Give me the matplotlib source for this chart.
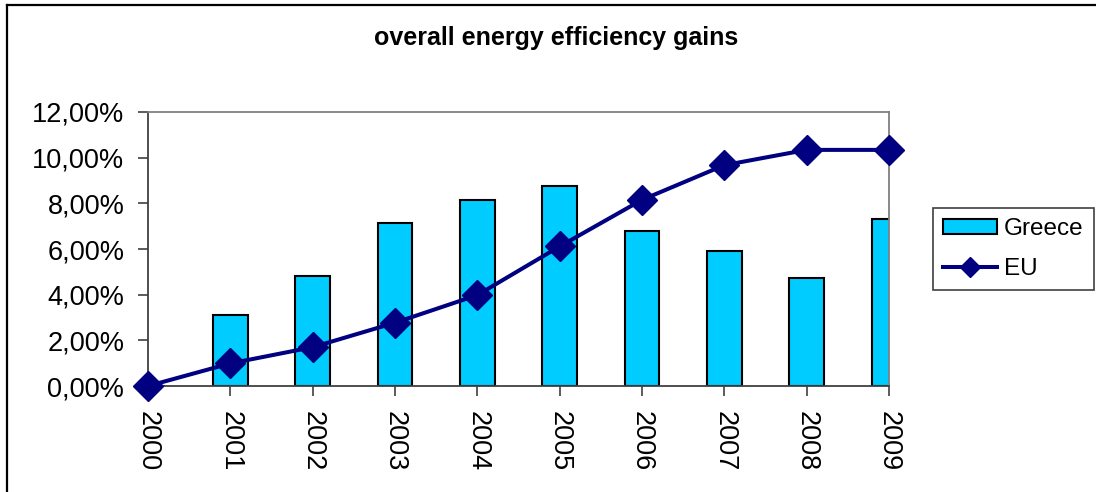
import matplotlib.pyplot as plt
from matplotlib.ticker import FuncFormatter
from matplotlib.lines import Line2D

plt.rcParams['font.family'] = ['Liberation Sans', 'DejaVu Sans']

years = ['2000', '2001', '2002', '2003', '2004', '2005', '2006', '2007', '2008', '2009']
greece = [0.0, 3.12, 4.82, 7.13, 8.14, 8.75, 6.78, 5.91, 4.73, 7.30]
eu = [0.0, 0.99, 1.70, 2.77, 3.98, 6.11, 8.15, 9.67, 10.34, 10.34]

fig = plt.figure(figsize=(10.96, 4.92), dpi=100)
ax = fig.add_axes([0.135, 0.2154, 0.676, 0.5570])

x = list(range(len(years)))
bars = ax.bar(x, greece, width=0.42, color='#00CCFF', edgecolor='black', linewidth=1.5,
              label='Greece', zorder=2)
line, = ax.plot(x, eu, color='#000080', linewidth=2.9, marker='D', markersize=15,
                label='EU', zorder=3, clip_on=False)

ax.set_xlim(0, 9)
ax.set_ylim(0, 12)
ax.set_yticks([0, 2, 4, 6, 8, 10, 12])
ax.yaxis.set_major_formatter(FuncFormatter(lambda v, p: f'{v:.2f}%'.replace('.', ',')))
ax.set_xticks(x)
ax.set_xticklabels(years, rotation=270)
ax.tick_params(axis='both', labelsize=19.5, length=7, width=1.2, direction='out',
               colors='#404040', labelcolor='black')
ax.tick_params(axis='y', pad=10)
ax.tick_params(axis='x', pad=11)

for s in ['left', 'bottom']:
    ax.spines[s].set_color('#404040')
    ax.spines[s].set_linewidth(1.3)
for s in ['top', 'right']:
    ax.spines[s].set_color('#808080')
    ax.spines[s].set_linewidth(1.3)

fig.text(0.507, 0.922, 'overall energy efficiency gains', ha='center', va='center',
         fontsize=18, fontweight='bold')

leg = fig.legend([bars, line], ['Greece', 'EU'], loc='upper left',
                 bbox_to_anchor=(0.8513, 0.5772), borderaxespad=0, fontsize=17.5,
                 frameon=True, fancybox=False, edgecolor='#404040', framealpha=1,
                 handlelength=2.2, handleheight=0.58, borderpad=0.42, labelspacing=0.72,
                 handletextpad=0.3, markerscale=0.65)
leg.get_frame().set_linewidth(1.2)

# border lines around the chart area (top and left only)
fig.add_artist(Line2D([0.0064, 1.0], [0.990, 0.990], color='black', linewidth=1.6))
fig.add_artist(Line2D([0.0064, 0.0064], [0.0, 0.990], color='black', linewidth=1.6))

fig.savefig('out.png', dpi=100)
